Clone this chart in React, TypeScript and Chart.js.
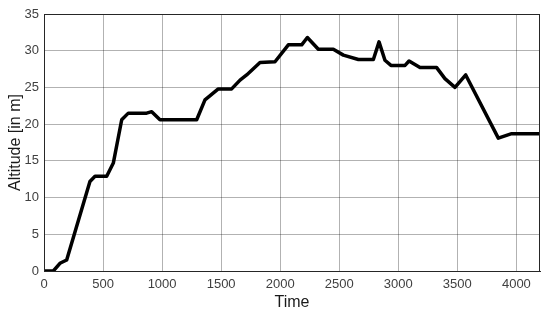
import React, { useEffect, useRef } from "react";
import { Chart, registerables } from "chart.js";

Chart.register(...registerables);

const times = [0, 79, 135, 192, 389, 432, 531, 587, 658, 714, 869, 912, 982, 1293, 1363, 1476, 1589, 1660, 1716, 1829, 1956, 2069, 2182, 2230, 2323, 2450, 2535, 2662, 2789, 2837, 2887, 2938, 3057, 3091, 3184, 3325, 3395, 3480, 3571, 3847, 3960, 4200];
const altitudes = [0, 0, 1.05, 1.5, 12.2, 12.9, 12.9, 14.7, 20.6, 21.5, 21.5, 21.7, 20.6, 20.6, 23.3, 24.8, 24.8, 26.0, 26.7, 28.4, 28.5, 30.8, 30.8, 31.8, 30.2, 30.2, 29.4, 28.8, 28.8, 31.2, 28.7, 28.0, 28.0, 28.6, 27.7, 27.7, 26.2, 25.0, 26.7, 18.1, 18.7, 18.7];
const xTickValues = [0, 500, 1000, 1500, 2000, 2500, 3000, 3500, 4000];
const yTickValues = [0, 5, 10, 15, 20, 25, 30, 35];

const boxPlugin = {
  id: "box",
  afterDraw(chart: any) {
    const { ctx, chartArea } = chart;
    ctx.save();
    ctx.strokeStyle = "#262626";
    ctx.lineWidth = 1;
    ctx.strokeRect(chartArea.left + 0.5, chartArea.top + 0.5, chartArea.right - chartArea.left - 1, chartArea.bottom - chartArea.top);
    ctx.restore();
  },
};

export default function App() {
  const ref = useRef<HTMLCanvasElement>(null);
  useEffect(() => {
    const chart = new Chart(ref.current!, {
      type: "line",
      data: {
        datasets: [
          {
            data: times.map((t, i) => ({ x: t, y: altitudes[i] })),
            borderColor: "#000000",
            borderWidth: 3.5,
            pointRadius: 0,
            tension: 0,
            borderJoinStyle: "round",
            borderCapStyle: "round",
          },
        ],
      },
      options: {
        animation: false,
        responsive: false,
        maintainAspectRatio: false,
        layout: { padding: { top: 14, right: 10, left: 0, bottom: 0 } },
        plugins: { legend: { display: false }, tooltip: { enabled: false } },
        scales: {
          x: {
            type: "linear",
            min: 0,
            max: 4200,
            afterBuildTicks: (s: any) => {
              s.ticks = xTickValues.map((v) => ({ value: v }));
            },
            afterFit: (s: any) => {
              s.height = 46;
            },
            grid: { color: "rgba(0,0,0,0.3)", drawTicks: false },
            border: { color: "#262626" },
            ticks: {
              color: "#404040",
              font: { family: "Liberation Sans, Arial", size: 13 },
              padding: 6,
              maxRotation: 0,
              callback: (v: any) => String(v),
            },
            title: {
              display: true,
              text: "Time",
              color: "#1a1a1a",
              font: { family: "Liberation Sans, Arial", size: 16 },
              padding: { top: 0, bottom: 5 },
            },
          },
          y: {
            type: "linear",
            min: 0,
            max: 35,
            afterBuildTicks: (s: any) => {
              s.ticks = yTickValues.map((v) => ({ value: v }));
            },
            afterFit: (s: any) => {
              s.width = 44;
            },
            grid: { color: "rgba(0,0,0,0.3)", drawTicks: false },
            border: { color: "#262626" },
            ticks: {
              color: "#404040",
              font: { family: "Liberation Sans, Arial", size: 13 },
              padding: 5,
              callback: (v: any) => String(v),
            },
            title: {
              display: true,
              text: "Altitude [in m]",
              color: "#1a1a1a",
              font: { family: "Liberation Sans, Arial", size: 16 },
              padding: { top: 6, bottom: 0 },
            },
          },
        },
      },
      plugins: [boxPlugin],
    } as any);
    return () => chart.destroy();
  }, []);
  return (
    <div style={{ position: "fixed", left: 0, top: 0, width: 550, height: 317, background: "#fff" }}>
      <canvas ref={ref} width={550} height={317} style={{ display: "block" }} />
    </div>
  );
}
